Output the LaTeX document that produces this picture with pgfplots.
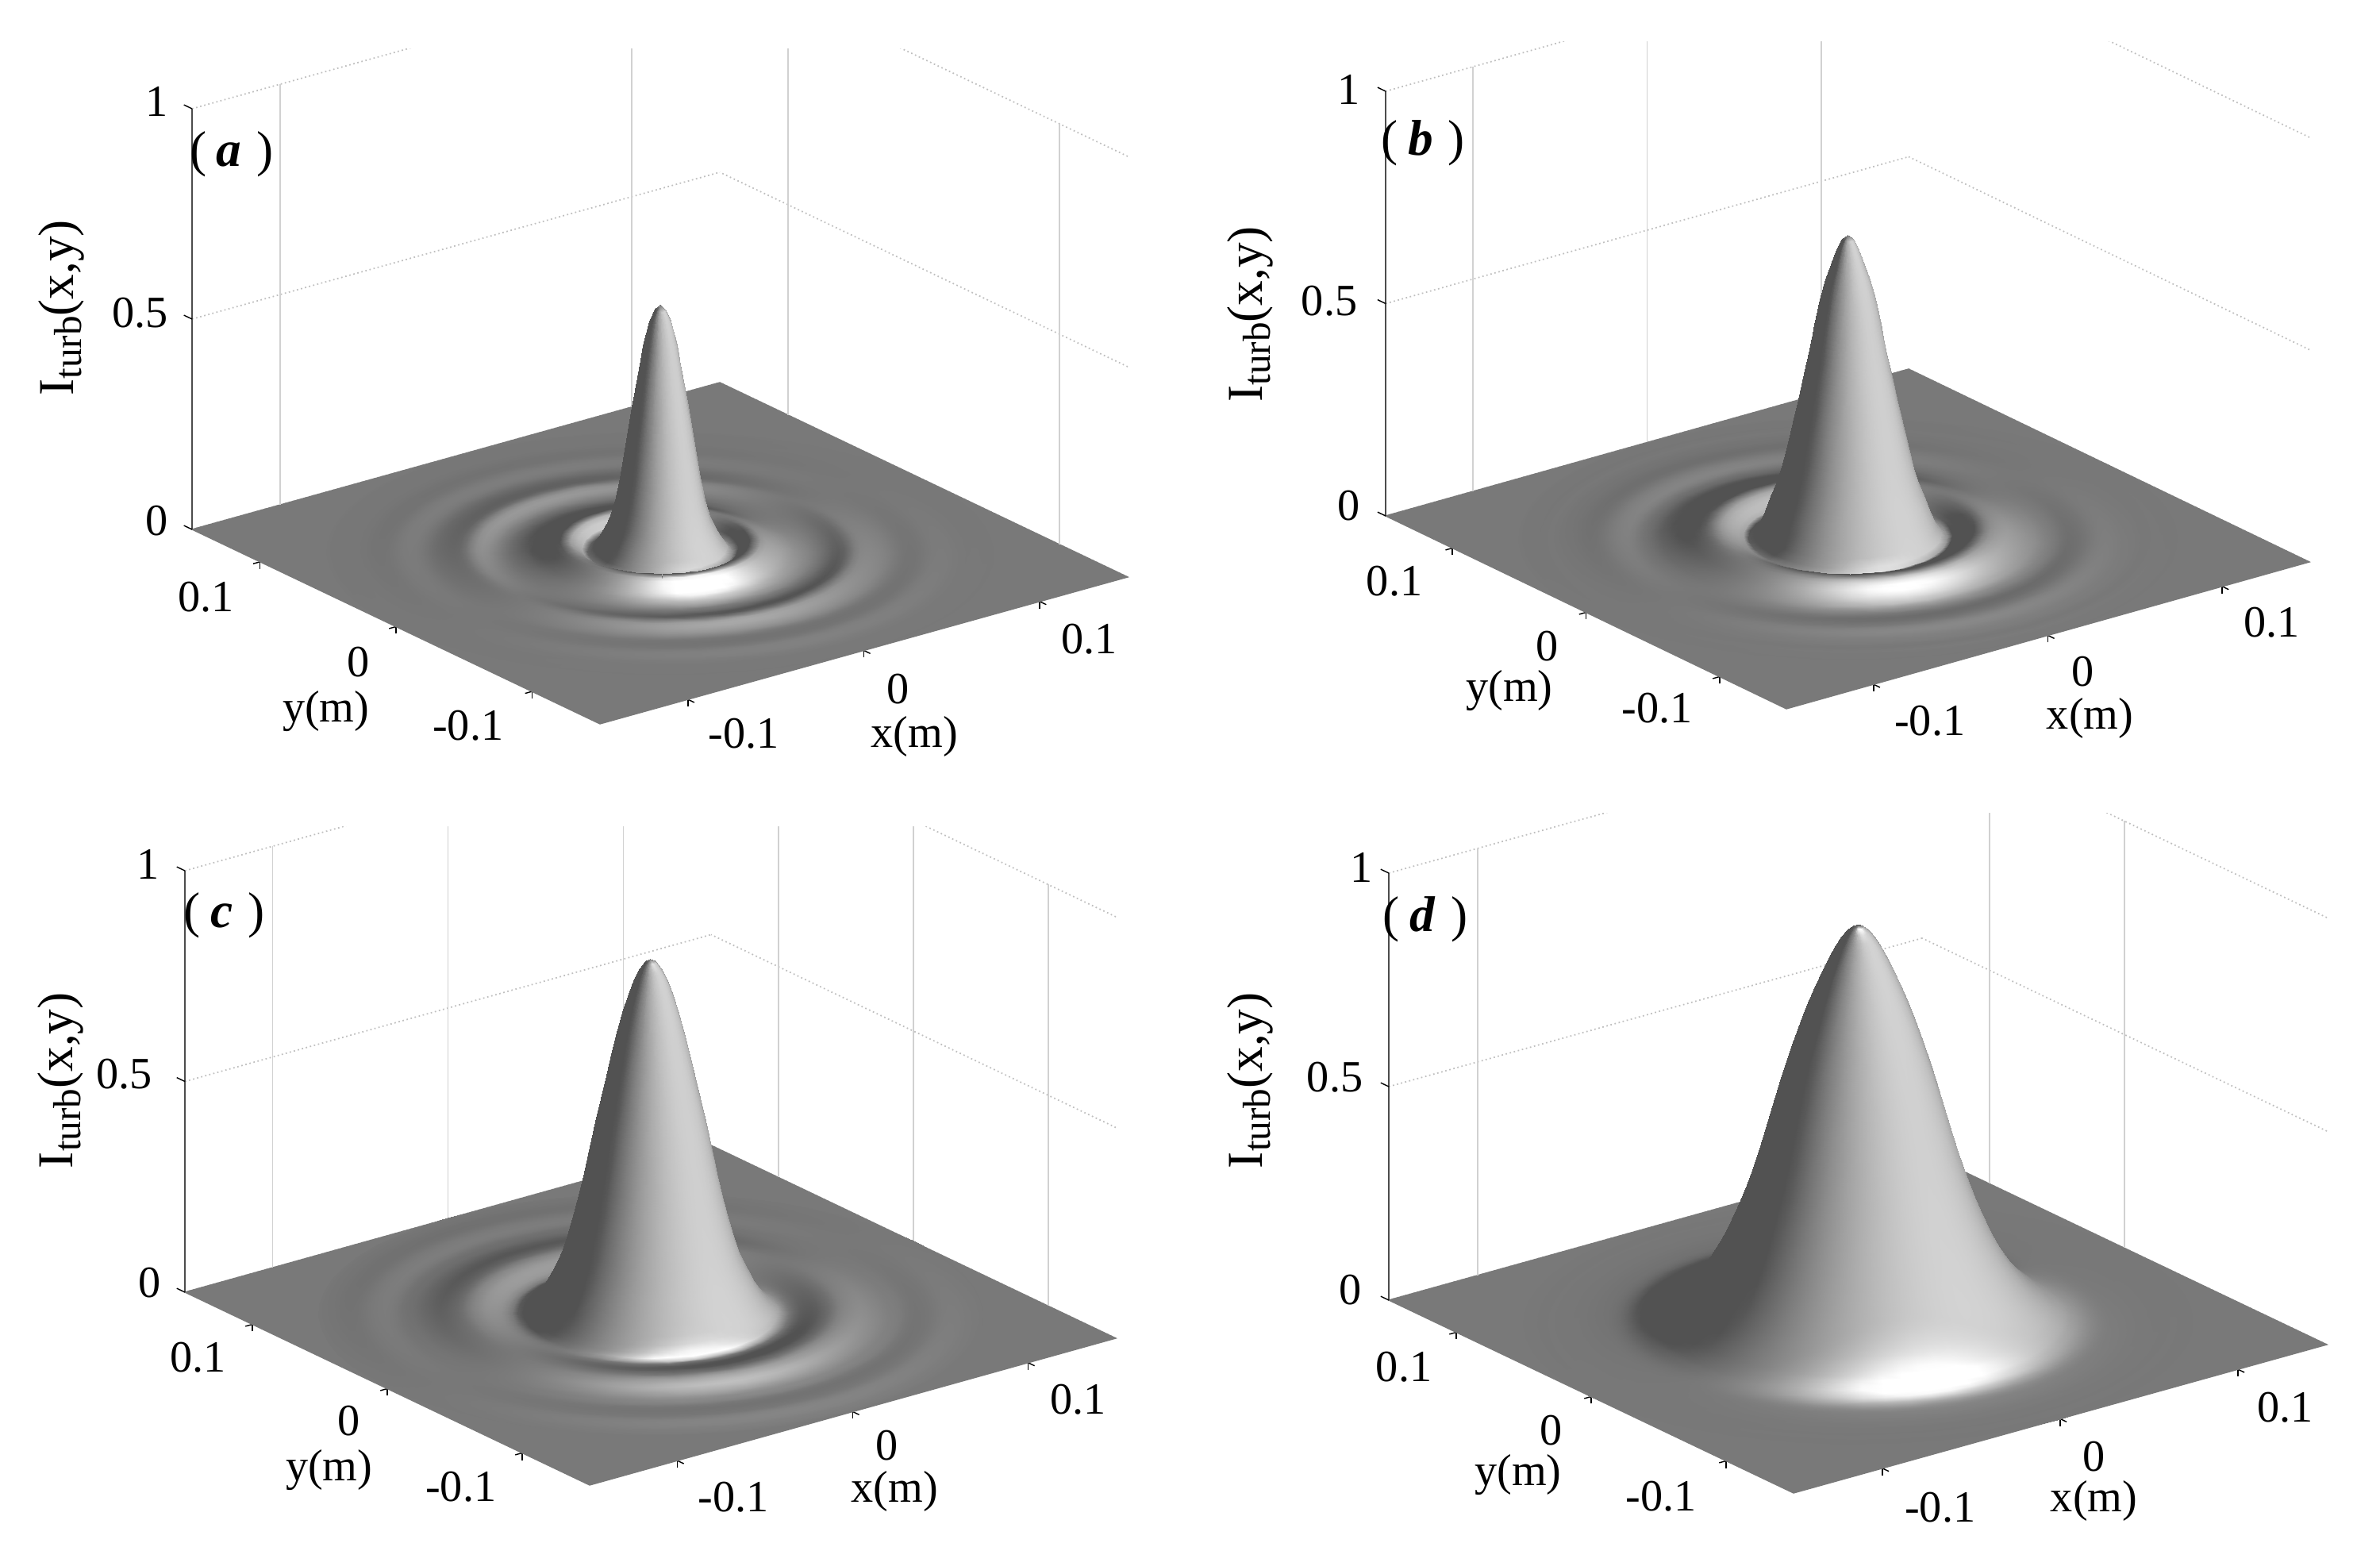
\documentclass[border=0pt]{standalone}
\usepackage{pgfplots}
\pgfplotsset{compat=1.18}
\usepackage{fontspec}
\setmainfont{Liberation Serif}
\def\Na{60}
\def\Sfac{0.35}
\def\Lhx{0.128}\def\Lhy{-0.99}
\def\Hhx{-0.336}\def\Hhy{-0.94}
\def\cosE{0.937}\def\sinE{0.35}
\def\cosH{0.574}\def\sinH{0.819}
\def\Amb{0.2775}\def\Dif{0.55}\def\Spc{0.50}\def\Pw{12}\def\Imin{0.32}
\pgfmathsetmacro\Iflat{\Amb+\Dif*\sinE}
\pgfmathsetmacro\Sflat{\sinH^\Pw}
\foreach \j in {0,...,\Na}{%
  \pgfmathsetmacro\tc{cos(\j*6)}\pgfmathsetmacro\ts{sin(\j*6)}%
  \pgfmathsetmacro\te{\tc*\Lhx+\ts*\Lhy}%
  \pgfmathsetmacro\tf{\tc*\Hhx+\ts*\Hhy}%
  \pgfmathsetmacro\tg{max(\tf,0)^3}%
  \expandafter\xdef\csname tc\j\endcsname{\tc}%
  \expandafter\xdef\csname ts\j\endcsname{\ts}%
  \expandafter\xdef\csname te\j\endcsname{\te}%
  \expandafter\xdef\csname tf\j\endcsname{\tf}%
  \expandafter\xdef\csname tg\j\endcsname{\tg}%
}
\def\collect#1#2#3{%
  \xdef\allrows{}%
  \foreach \j in {#3}{\xdef\allrows{\allrows\csname #2\j\endcsname}}%
  \global\let#1\allrows}
\newcommand\buildsurf[5]{%
  \foreach \v [count=\i from 0] in {#5}{\expandafter\xdef\csname zz\i\endcsname{\v}\xdef\nlast{\i}}%
  \foreach \i in {0,...,\nlast}{%
    \pgfmathtruncatemacro\ip{min(\i+1,\nlast)}%
    \pgfmathtruncatemacro\im{\i==0 ? 1 : \i-1}%
    \edef\zp{\csname zz\ip\endcsname}\edef\zm{\csname zz\im\endcsname}%
    \pgfmathsetmacro\sl{(\zm-\zp)*200*\Sfac}%
    \pgfmathsetmacro\bb{1/sqrt(1+\sl*\sl)}%
    \pgfmathsetmacro\aa{\sl*\bb}%
    \pgfmathsetmacro\rr{0.0025*\i}%
    \expandafter\xdef\csname aa\i\endcsname{\aa}%
    \expandafter\xdef\csname bb\i\endcsname{\bb}%
    \expandafter\xdef\csname rr\i\endcsname{\rr}%
  }%
  \foreach \j in {0,...,59}{%
    \xdef\rowacc{}\xdef\rowrev{}%
    \edef\tc{\csname tc\j\endcsname}\edef\ts{\csname ts\j\endcsname}\edef\te{\csname te\j\endcsname}\edef\tf{\csname tf\j\endcsname}\edef\tg{\csname tg\j\endcsname}%
    \foreach \i in {0,...,\nlast}{%
      \edef\aa{\csname aa\i\endcsname}\edef\bb{\csname bb\i\endcsname}\edef\rr{\csname rr\i\endcsname}%
      \pgfmathsetmacro\nL{\aa*\cosE*\te+\bb*\sinE}%
      \pgfmathsetmacro\nH{max(\aa*\cosH*\tf+\bb*\sinH,0)}%
      \pgfmathsetmacro\II{max(min(\Amb+\Dif*\nL+\Spc*\tg*max(\nH^\Pw-\Sflat,0),1),\Imin)}%
      \pgfmathsetmacro\xx{\rr*\tc}\pgfmathsetmacro\yy{\rr*\ts}%
      \xdef\rowacc{\rowacc (\xx,\yy,\csname zz\i\endcsname)[\II] }%
      \xdef\rowrev{(\xx,\yy,\csname zz\i\endcsname)[\II] \rowrev}%
    }%
    \expandafter\xdef\csname rowf\j\endcsname{\rowacc}%
    \expandafter\xdef\csname rowr\j\endcsname{\rowrev}%
  }%
  \collect#1{rowr}{9,...,24}%
  \collect#2{rowf}{24,...,39}%
  \collect#3{rowr}{9,8,7,6,5,4,3,2,1,0,59,58,57,56,55,54}%
  \collect#4{rowf}{54,53,52,51,50,49,48,47,46,45,44,43,42,41,40,39}%
}
% Radial intensity profiles, r = 0, 0.0025, ... 0.15 m
\buildsurf\sAa\sAb\sAc\sAd{.590,.578,.550,.495,.425,.350,.270,.190,.125,.082,.055,.033,.015,.004,.012,.022,.029,.031,.029,.025,.0205,.016,.012,.0085,.006,.004,.0025,.0015,.001,.0012,.002,.0035,.0055,.0075,.0088,.0088,.0078,.0065,.0052,.004,.003,.0022,.0018,.0017,.0019,.0022,.0025,.0027,.0027,.0025,.0022,.0019,.0016,.0014,.0013,.0012,.0012,.0011,.0011,.0010,.0010}
\buildsurf\sBa\sBb\sBc\sBd{.716,.705,.680,.645,.610,.565,.505,.440,.385,.325,.270,.215,.165,.125,.095,.060,.030,.012,.004,.007,.012,.018,.023,.027,.029,.029,.0275,.025,.022,.0185,.015,.012,.0092,.007,.005,.0035,.0026,.002,.0018,.002,.0027,.0034,.0040,.0044,.0045,.0043,.0039,.0034,.0029,.0025,.0022,.002,.0018,.0017,.0017,.0017,.0016,.0015,.0015,.0014,.0014}
\buildsurf\sCa\sCb\sCc\sCd{.845,.838,.820,.795,.760,.720,.672,.620,.565,.510,.455,.395,.335,.280,.230,.185,.145,.115,.090,.065,.045,.029,.017,.009,.0055,.005,.0058,.0075,.0098,.012,.0143,.016,.0172,.0178,.0175,.0165,.0152,.0136,.0118,.01,.0085,.0072,.0062,.0055,.005,.0045,.0044,.0045,.0048,.0051,.0053,.0054,.0053,.0050,.0046,.0042,.0038,.0035,.0033,.0031,.0030}
\buildsurf\sDa\sDb\sDc\sDd{.930,.926,.916,.900,.880,.857,.832,.805,.776,.745,.712,.677,.640,.601,.560,.517,.473,.430,.389,.350,.314,.281,.250,.221,.194,.170,.148,.128,.110,.094,.080,.067,.056,.046,.037,.029,.023,.017,.013,.0095,.0068,.0048,.0034,.0025,.0019,.0015,.0012,.0009,.0007,.0005,.0004,.0003,.0002,.0002,.0001,.0001,.0001,0,0,0,0}
\edef\basecoords{(-0.15,-0.15,0)[\Iflat] (0.15,-0.15,0)[\Iflat] (-0.15,0.15,0)[\Iflat] (0.15,0.15,0)[\Iflat] }
\newcommand\plotsurf[1]{\addplot3[surf,shader=interp,z buffer=none,mesh/rows=16,point meta=explicit] coordinates {#1};}
\newcommand\plotbase[1]{\addplot3[surf,shader=flat,z buffer=none,mesh/rows=2,point meta=explicit] coordinates {#1};}
\pgfplotsset{wall/.style={black!18,line width=0.5pt,forget plot},panel/.style={
  clip=false, xmin=-0.15,xmax=0.15,ymin=-0.15,ymax=0.15,zmin=0,zmax=1,
  xtick={-0.1,0,0.1},ytick={-0.1,0,0.1},ztick={0,0.5,1},
  xticklabels={},yticklabels={},zticklabels={},
  xmajorgrids=false,ymajorgrids=false,zmajorgrids=true,
  major grid style={black!25,line width=0.5pt,densely dotted},
  axis line style={draw=none},tick pos=left,
  tick align=outside, major tick length=0.09cm, tick style={black,thin},
  z tick style={draw=none},
  colormap={g}{gray(0cm)=(0); gray(1cm)=(1)},
  point meta min=0, point meta max=1, anchor=origin,
}}
\newcommand\wallx[1]{\pgfplotsinvokeforeach{#1}{\addplot3[wall] coordinates {(##1,0.15,0) (##1,0.15,1)};}}
\newcommand\wally[1]{\pgfplotsinvokeforeach{#1}{\addplot3[wall] coordinates {(0.15,##1,0) (0.15,##1,1)};}}
\newcommand\panel[9]{%
  \pgfmathsetmacro\vax{#3/30}\pgfmathsetmacro\vay{#4/30}%
  \pgfmathsetmacro\vbx{#5/30}\pgfmathsetmacro\vby{#6/30}%
  \pgfmathsetmacro\vcz{#7/100}%
  \pgfmathsetmacro\posx{#1/100}\pgfmathsetmacro\posy{19.48-#2/100}%
  \begin{scope}
    \clip #9;
    \edef\axisbegin{\noexpand\begin{axis}[panel,at={(\posx cm,\posy cm)},x={(\vax cm,\vay cm)},y={(\vbx cm,\vby cm)},z={(0cm,\vcz cm)}]}%
    \axisbegin
      \expandafter\plotbase\expandafter{\basecoords}
      \csname plot#8\endcsname
      \addplot3[draw=black!70,thin,forget plot] coordinates {(-0.15,0.15,0) (-0.15,0.15,1)};
      \pgfplotsinvokeforeach{0,0.5,1}{\addplot3[black,thin,forget plot] coordinates {(-0.15,0.15,##1) (-0.15,0.156,##1)};}
    \end{axis}
  \end{scope}
}
\def\plotset#1#2#3#4{\expandafter\plotsurf\expandafter{#1}\expandafter\plotsurf\expandafter{#2}\expandafter\plotsurf\expandafter{#3}\expandafter\plotsurf\expandafter{#4}}
\def\plotA{\wallx{-0.1,0.1}\wally{0.1,-0.1}\plotset\sAa\sAc\sAb\sAd}
\def\plotB{\wallx{-0.1,0,0.1}\plotset\sBa\sBc\sBb\sBd}
\def\plotC{\wallx{-0.1,0,0.1}\wally{0.1,0,-0.1}\plotset\sCa\sCc\sCb\sCd}
\def\plotD{\wallx{-0.1}\wally{0.1,0}\plotset\sDa\sDc\sDb\sDd}
\newcommand\lab[3]{\node[inner sep=0pt,anchor=center] at ({#1*0.01},{19.48-#2*0.01}) {#3};}
\newcommand\ylab[3]{\node[inner sep=0pt,anchor=center,rotate=90] at ({#1*0.01},{19.48-#2*0.01}) {\fontsize{18}{20}\selectfont I\raisebox{-0.35ex}{\fontsize{14}{16}\selectfont turb}(x,y)};}
\newcommand\plab[3]{\node[inner sep=0pt,anchor=center] at ({#1*0.01},{19.48-#2*0.01}) {\fontsize{18}{20}\selectfont (\hspace{0.2em}\textbf{\textit{#3}}\hspace{0.3em})};}
\begin{document}
\begin{tikzpicture}
\path[use as bounding box] (0,0) rectangle (29.99,19.48);
\panel{831.5}{697}{665}{185}{-514}{245}{530}{A}{(0,18.86) rectangle (15,9.4)}
\panel{2328}{679}{659}{185}{-505}{243}{535}{B}{(15,18.95) rectangle (29.99,9.4)}
\panel{819.5}{1657}{663}{185}{-510}{243}{531}{C}{(0,9.06) rectangle (15,0)}
\panel{2341}{1666}{672}{187}{-510}{243}{538}{D}{(15,9.23) rectangle (29.99,0)}
\fontsize{16}{18}\selectfont
\lab{1373}{806}{0.1}\lab{1132}{869}{0}\lab{938}{925}{-0.1}
\lab{260}{753}{0.1}\lab{452}{835}{0}\lab{590}{915}{-0.1}
\lab{198}{128}{1}\lab{177}{394}{0.5}\lab{198}{656}{0}
\lab{1153}{928}{x(m)}\lab{411}{897}{y(m)}
\ylab{77}{388}{}\plab{292}{194}{a}
\lab{2864}{785}{0.1}\lab{2626}{847}{0}\lab{2433}{909}{-0.1}
\lab{1758}{733}{0.1}\lab{1951}{815}{0}\lab{2089}{893}{-0.1}
\lab{1700}{113}{1}\lab{1676}{379}{0.5}\lab{1700}{637}{0}
\lab{2635}{905}{x(m)}\lab{1903}{871}{y(m)}
\ylab{1576}{396}{}\plab{1794}{180}{b}
\lab{1359}{1764}{0.1}\lab{1118}{1822}{0}\lab{925}{1887}{-0.1}
\lab{250}{1711}{0.1}\lab{440}{1791}{0}\lab{581}{1874}{-0.1}
\lab{187}{1090}{1}\lab{157}{1354}{0.5}\lab{189}{1617}{0}
\lab{1128}{1880}{x(m)}\lab{415}{1853}{y(m)}
\ylab{76}{1362}{}\plab{283}{1154}{c}
\lab{2881}{1774}{0.1}\lab{2640}{1836}{0}\lab{2446}{1900}{-0.1}
\lab{1770}{1723}{0.1}\lab{1956}{1803}{0}\lab{2094}{1886}{-0.1}
\lab{1716}{1094}{1}\lab{1683}{1358}{0.5}\lab{1702}{1626}{0}
\lab{2640}{1892}{x(m)}\lab{1914}{1859}{y(m)}
\ylab{1576}{1362}{}\plab{1797}{1159}{d}
\end{tikzpicture}
\end{document}
